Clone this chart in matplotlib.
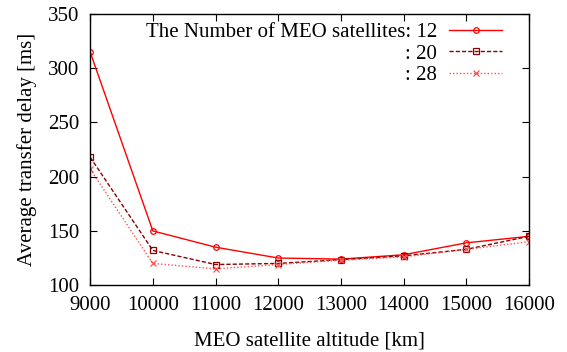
import matplotlib
matplotlib.use("Agg")
import matplotlib.pyplot as plt

altitudes = [9000, 10000, 11000, 12000, 13000, 14000, 15000, 16000]
delay_12 = [315, 150, 135, 125, 124, 128, 139, 145]
delay_20 = [218, 132, 119, 120, 123.5, 127, 133, 145]
delay_28 = [207, 120, 115, 119, 123, 126, 133, 140]

plt.rcParams["font.family"] = ["Liberation Serif", "DejaVu Serif"]
plt.rcParams["font.size"] = 15

fig = plt.figure(figsize=(5.67, 3.52), dpi=100)
ax = fig.add_axes([0.159, 0.19, 0.774, 0.77])

ax.plot(altitudes, delay_12, color="#ff0000", lw=1.0, marker="o", ms=4,
        mfc="none", mew=0.9, label="The Number of MEO satellites: 12")
ax.plot(altitudes, delay_20, color="#8b0000", lw=1.0, ls=(0, (3, 1.5)), marker="s", ms=4,
        mfc="none", mew=0.9, label=": 20")
ax.plot(altitudes, delay_28, color="#ff5050", lw=1.0, ls=(0, (1, 1.5)), marker="x", ms=4,
        mew=0.9, label=": 28")

ax.set_xlim(9000, 16000)
ax.set_ylim(100, 350)
ax.set_xticks(altitudes)
ax.set_yticks(range(100, 351, 50))
ax.tick_params(direction="in", top=True, right=True, length=5, width=0.8, pad=8)
for s in ax.spines.values():
    s.set_linewidth(1.0)

ax.set_xlabel("MEO satellite altitude [km]", labelpad=12)
ax.set_ylabel("Average transfer delay [ms]", labelpad=8)

leg = ax.legend(loc="upper right", bbox_to_anchor=(0.968, 1.015), markerfirst=False,
                frameon=False, handlelength=2.55, borderaxespad=0.2, labelspacing=0.1,
                handletextpad=0.6)
for t in leg.get_texts():
    t.set_ha("right")
leg._legend_box.align = "right"

fig.savefig("out.png", dpi=100)
